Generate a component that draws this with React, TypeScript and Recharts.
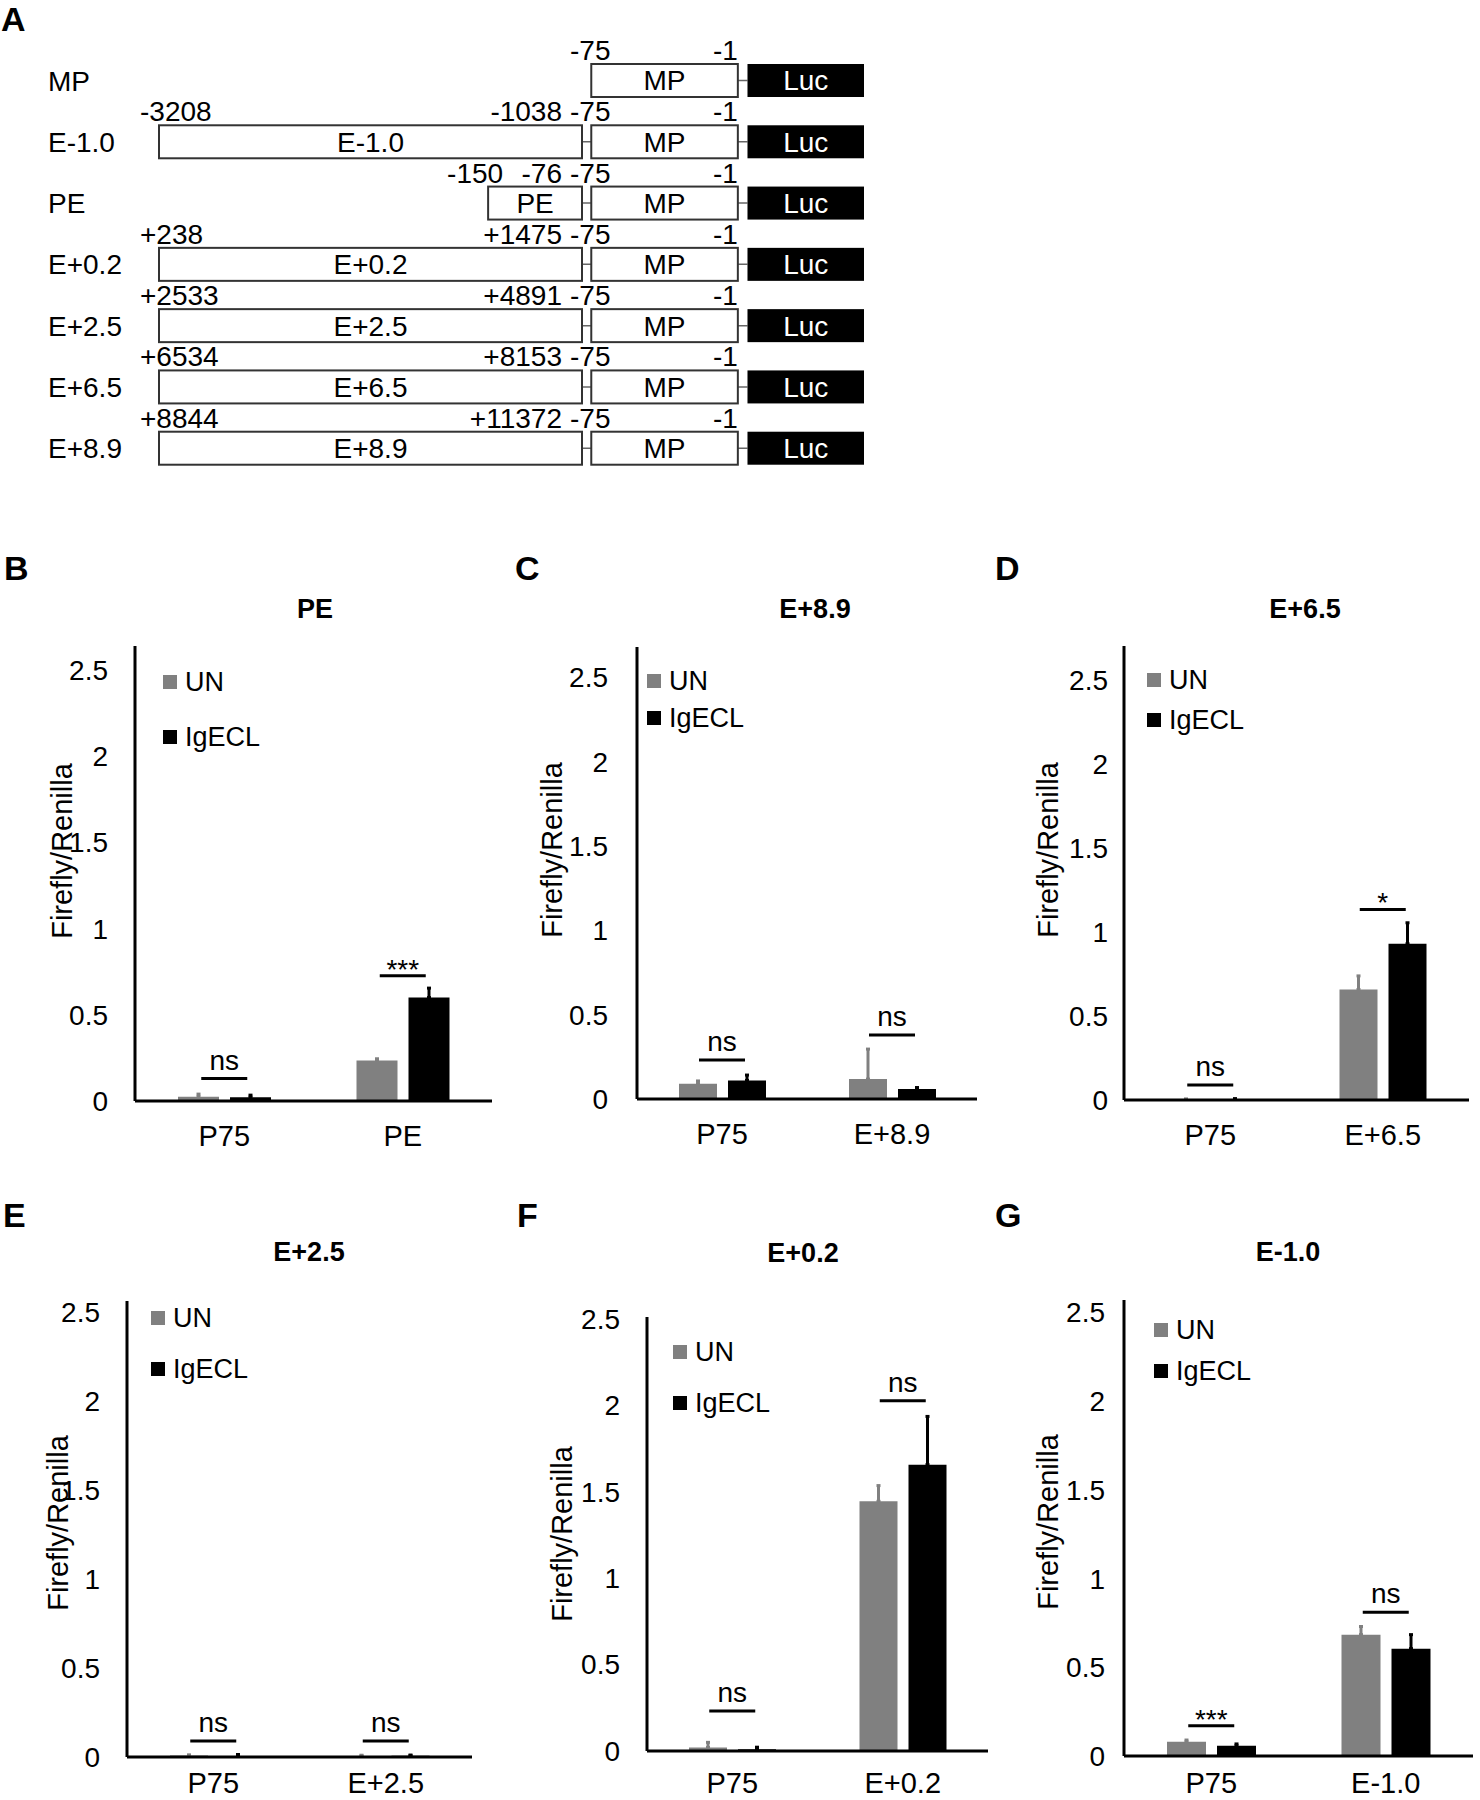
import React from "react";
import { BarChart, Bar, XAxis, YAxis, ErrorBar, Legend, ReferenceDot } from "recharts";

const FONT = '"Liberation Sans", Arial, Helvetica, sans-serif';
const GREY = "#808080";
const BLACK = "#000000";

// --- Panel A: reporter constructs (schematic units along the row) ---
const CONSTRUCTS = ["MP", "E-1.0", "PE", "E+0.2", "E+2.5", "E+6.5", "E+8.9"];
const ENHANCER_SPANS: (number[] | null)[] = [null, [0, 114], [88.7, 114], [0, 114], [0, 114], [0, 114], [0, 114]];
const ENHANCER_NAMES = ["", "E-1.0", "PE", "E+0.2", "E+2.5", "E+6.5", "E+8.9"];
const ENHANCER_START = ["", "-3208", "-150", "+238", "+2533", "+6534", "+8844"];
const ENHANCER_END = ["", "-1038", "-76", "+1475", "+4891", "+8153", "+11372"];
const MP_SPAN = [116.5, 156];
const MP_LABELS = ["-75", "-1"];
const LUC_SPAN = [158.6, 190];

// --- Luciferase assays ---
const Y_TICKS = [0, 0.5, 1, 1.5, 2, 2.5];
const SERIES = ["UN", "IgECL"];

// B - PE
const B_CATS = ["P75", "PE"];
const B_UN = [0.025, 0.235];
const B_UN_ERR = [0.015, 0.01];
const B_IG = [0.022, 0.6];
const B_IG_ERR = [0.012, 0.055];
const B_SIG_Y = [0.13, 0.727];
const B_SIG = ["ns", "***"];

// C - E+8.9
const C_CATS = ["P75", "E+8.9"];
const C_UN = [0.091, 0.118];
const C_UN_ERR = [0.016, 0.178];
const C_IG = [0.11, 0.059];
const C_IG_ERR = [0.032, 0.009];
const C_SIG_Y = [0.231, 0.379];
const C_SIG = ["ns", "ns"];

// D - E+6.5
const D_CATS = ["P75", "E+6.5"];
const D_UN = [0.004, 0.657];
const D_UN_ERR = [0.002, 0.081];
const D_IG = [0.005, 0.929];
const D_IG_ERR = [0.003, 0.125];
const D_SIG_Y = [0.089, 1.133];
const D_SIG = ["ns", "*"];

// E - E+2.5
const E_CATS = ["P75", "E+2.5"];
const E_UN = [0.008, 0.006];
const E_UN_ERR = [0.004, 0.004];
const E_IG = [0.006, 0.007];
const E_IG_ERR = [0.008, 0.004];
const E_SIG_Y = [0.09, 0.09];
const E_SIG = ["ns", "ns"];

// F - E+0.2
const F_CATS = ["P75", "E+0.2"];
const F_UN = [0.02, 1.444];
const F_UN_ERR = [0.03, 0.091];
const F_IG = [0.01, 1.656];
const F_IG_ERR = [0.012, 0.279];
const F_SIG_Y = [0.232, 2.025];
const F_SIG = ["ns", "ns"];

// G - E-1.0
const G_CATS = ["P75", "E-1.0"];
const G_UN = [0.08, 0.684];
const G_UN_ERR = [0.01, 0.046];
const G_IG = [0.058, 0.605];
const G_IG_ERR = [0.01, 0.079];
const G_SIG_Y = [0.17, 0.81];
const G_SIG = ["***", "ns"];

const txt = { fontFamily: FONT, fontSize: 28, fill: BLACK };

function RowLabel(props: any) {
  const { y, payload } = props;
  return (
    <text x={48} y={y} dy="0.355em" {...txt}>
      {payload.value}
    </text>
  );
}

function LinkShape(props: any) {
  const { x, y, width, height } = props;
  if (!isFinite(x) || !isFinite(width)) return <g />;
  return <line x1={x} x2={x + width} y1={y + height / 2} y2={y + height / 2} stroke="#666" strokeWidth={1.5} />;
}

function EnhancerShape(props: any) {
  const { x, y, width, height, payload } = props;
  if (!payload.enh || !isFinite(x)) return <g />;
  const short = width < 150;
  return (
    <g>
      <rect x={x} y={y} width={width} height={height} fill="#fff" stroke="#333" strokeWidth={2} />
      <text x={x + width / 2} y={y + height / 2} dy="0.355em" textAnchor="middle" {...txt}>
        {payload.enhName}
      </text>
      <text x={short ? x - 13 : x - 19} y={y - 4} textAnchor={short ? "middle" : "start"} {...txt}>
        {payload.enhStart}
      </text>
      <text x={x + width - 20} y={y - 4} textAnchor="end" {...txt}>
        {payload.enhEnd}
      </text>
    </g>
  );
}

function MpShape(props: any) {
  const { x, y, width, height } = props;
  return (
    <g>
      <rect x={x} y={y} width={width} height={height} fill="#fff" stroke="#333" strokeWidth={2} />
      <text x={x + width / 2} y={y + height / 2} dy="0.355em" textAnchor="middle" {...txt}>
        MP
      </text>
      <text x={x - 1} y={y - 4} textAnchor="middle" {...txt}>
        {MP_LABELS[0]}
      </text>
      <text x={x + width} y={y - 4} textAnchor="end" {...txt}>
        {MP_LABELS[1]}
      </text>
    </g>
  );
}

function LucShape(props: any) {
  const { x, y, width, height } = props;
  return (
    <g>
      <rect x={x} y={y} width={width} height={height} fill="#000" />
      <text x={x + width / 2} y={y + height / 2} dy="0.355em" textAnchor="middle" {...txt} fill="#fff">
        Luc
      </text>
    </g>
  );
}

function ConstructMap() {
  const rows = CONSTRUCTS.map((name, i) => {
    const enh = ENHANCER_SPANS[i];
    return {
      name,
      enh,
      mp: MP_SPAN,
      luc: LUC_SPAN,
      link: [enh ? enh[1] : MP_SPAN[0], LUC_SPAN[0]],
      enhName: ENHANCER_NAMES[i],
      enhStart: ENHANCER_START[i],
      enhEnd: ENHANCER_END[i],
    };
  });
  return (
    <div style={{ position: "absolute", left: 0, top: 0, width: 900, height: 500 }}>
      <BarChart
        layout="vertical"
        width={900}
        height={500}
        data={rows}
        margin={{ top: 50, bottom: 21, left: 0, right: 36 }}
        barGap={-33}
        barCategoryGap={0}
      >
        <XAxis type="number" domain={[0, 190]} hide />
        <YAxis type="category" dataKey="name" width={159} axisLine={false} tickLine={false} tick={<RowLabel />} interval={0} />
        <Bar dataKey="link" barSize={33} shape={LinkShape} isAnimationActive={false} />
        <Bar dataKey="enh" barSize={33} shape={EnhancerShape} isAnimationActive={false} />
        <Bar dataKey="mp" barSize={33} shape={MpShape} isAnimationActive={false} />
        <Bar dataKey="luc" barSize={33} shape={LucShape} isAnimationActive={false} />
      </BarChart>
    </div>
  );
}

function SigMark({ cx, cy, text }: any) {
  const stars = text.startsWith("*");
  return (
    <g>
      <line x1={cx - 23} x2={cx + 23} y1={cy} y2={cy} stroke={BLACK} strokeWidth={3} />
      <text x={cx} y={stars ? cy + 3 : cy - 9} textAnchor="middle" {...txt}>
        {text}
      </text>
    </g>
  );
}

function AssayPanel(props: any) {
  const { cats, un, unErr, ig, igErr, sigY, sig, yMax, plot, barSize, tickGap, xTickGap, legend } = props;
  const data = cats.map((cat: string, i: number) => ({
    cat,
    un: un[i],
    unErr: [0, unErr[i]],
    ig: ig[i],
    igErr: [0, igErr[i]],
  }));
  const left = plot.left - 100;
  const top = plot.top - 20;
  const width = plot.right - plot.left + 110;
  const height = plot.bottom - plot.top + 80;

  return (
    <div style={{ position: "absolute", left, top, width, height }}>
      <BarChart width={width} height={height} data={data} margin={{ top: 20, right: 10, left: 0, bottom: 0 }} barGap={11}>
        <XAxis
          dataKey="cat"
          height={60}
          axisLine={{ stroke: BLACK, strokeWidth: 3 }}
          tickLine={false}
          tickSize={0}
          tickMargin={xTickGap}
          interval={0}
          tick={{ fill: BLACK, fontSize: 29, fontFamily: FONT }}
        />
        <YAxis
          width={100}
          domain={[0, yMax]}
          ticks={Y_TICKS}
          interval={0}
          axisLine={{ stroke: BLACK, strokeWidth: 3 }}
          tickLine={false}
          tickSize={0}
          tickMargin={tickGap}
          tick={{ fill: BLACK, fontSize: 28, fontFamily: FONT }}
        />
        <Legend
          layout="vertical"
          align="center"
          verticalAlign="middle"
          wrapperStyle={{
            left: legend.x - left,
            top: legend.y - legend.gap / 2 - top,
            width: "auto",
          }}
          content={(lp: any) => {
            const items = [...(lp.payload || [])].sort(
              (a: any, b: any) => SERIES.indexOf(a.value) - SERIES.indexOf(b.value)
            );
            return (
              <div style={{ display: "flex", flexDirection: "column" }}>
                {items.map((p: any) => (
                  <div key={p.value} style={{ height: legend.gap, display: "flex", alignItems: "center" }}>
                    <span style={{ width: 14, height: 14, background: p.color, marginRight: 8, display: "inline-block" }} />
                    <span style={{ fontFamily: FONT, fontSize: 27, lineHeight: 1, color: BLACK }}>{p.value}</span>
                  </div>
                ))}
              </div>
            );
          }}
        />
        <Bar dataKey="un" name={SERIES[0]} fill={GREY} barSize={barSize} legendType="square" isAnimationActive={false}>
          <ErrorBar dataKey="unErr" direction="y" width={2} stroke={GREY} strokeWidth={3} />
        </Bar>
        <Bar dataKey="ig" name={SERIES[1]} fill={BLACK} barSize={barSize} legendType="square" isAnimationActive={false}>
          <ErrorBar dataKey="igErr" direction="y" width={2} stroke={BLACK} strokeWidth={3} />
        </Bar>
        {cats.map((c: string, i: number) => (
          <ReferenceDot
            key={c}
            x={c}
            y={sigY[i]}
            r={0}
            ifOverflow="visible"
            shape={(p: any) => <SigMark cx={p.cx} cy={p.cy} text={sig[i]} />}
          />
        ))}
      </BarChart>
    </div>
  );
}

const letter = { fontFamily: FONT, fontSize: 34, fontWeight: 700, fill: BLACK };
const title = { fontFamily: FONT, fontSize: 27, fontWeight: 700, fill: BLACK, textAnchor: "middle" as const };

function YLabel({ x, y }: { x: number; y: number }) {
  return (
    <text
      transform={`translate(${x},${y}) rotate(-90)`}
      textAnchor="middle"
      dominantBaseline="central"
      fontFamily={FONT}
      fontSize={29}
      fill={BLACK}
    >
      Firefly/Renilla
    </text>
  );
}

export default function App() {
  return (
    <div style={{ position: "relative", width: 1480, height: 1800, overflow: "hidden", background: "#fff" }}>
      <style>{"body{margin:0}"}</style>
      <ConstructMap />

      <AssayPanel
        cats={B_CATS} un={B_UN} unErr={B_UN_ERR} ig={B_IG} igErr={B_IG_ERR} sigY={B_SIG_Y} sig={B_SIG}
        yMax={2.64} plot={{ left: 135, top: 646, right: 492, bottom: 1101 }} barSize={41} tickGap={27} xTickGap={24}
        legend={{ x: 163, y: 682, gap: 55 }}
      />
      <AssayPanel
        cats={C_CATS} un={C_UN} unErr={C_UN_ERR} ig={C_IG} igErr={C_IG_ERR} sigY={C_SIG_Y} sig={C_SIG}
        yMax={2.68} plot={{ left: 637, top: 647, right: 977, bottom: 1099 }} barSize={38} tickGap={29} xTickGap={24}
        legend={{ x: 647, y: 681, gap: 37 }}
      />
      <AssayPanel
        cats={D_CATS} un={D_UN} unErr={D_UN_ERR} ig={D_IG} igErr={D_IG_ERR} sigY={D_SIG_Y} sig={D_SIG}
        yMax={2.7} plot={{ left: 1124, top: 646, right: 1469, bottom: 1100 }} barSize={38} tickGap={16} xTickGap={24}
        legend={{ x: 1147, y: 680, gap: 40 }}
      />
      <AssayPanel
        cats={E_CATS} un={E_UN} unErr={E_UN_ERR} ig={E_IG} igErr={E_IG_ERR} sigY={E_SIG_Y} sig={E_SIG}
        yMax={2.56} plot={{ left: 127, top: 1301, right: 472, bottom: 1757 }} barSize={38} tickGap={27} xTickGap={15}
        legend={{ x: 151, y: 1318, gap: 51 }}
      />
      <AssayPanel
        cats={F_CATS} un={F_UN} unErr={F_UN_ERR} ig={F_IG} igErr={F_IG_ERR} sigY={F_SIG_Y} sig={F_SIG}
        yMax={2.51} plot={{ left: 647, top: 1317, right: 988, bottom: 1751 }} barSize={38} tickGap={27} xTickGap={21}
        legend={{ x: 673, y: 1352, gap: 51 }}
      />
      <AssayPanel
        cats={G_CATS} un={G_UN} unErr={G_UN_ERR} ig={G_IG} igErr={G_IG_ERR} sigY={G_SIG_Y} sig={G_SIG}
        yMax={2.57} plot={{ left: 1124, top: 1300, right: 1473, bottom: 1756 }} barSize={39} tickGap={19} xTickGap={16}
        legend={{ x: 1154, y: 1330, gap: 41 }}
      />

      <svg width={1480} height={1800} style={{ position: "absolute", left: 0, top: 0, pointerEvents: "none" }}>
        <text x={1} y={31} {...letter}>A</text>
        <text x={4} y={580} {...letter}>B</text>
        <text x={515} y={580} {...letter}>C</text>
        <text x={995} y={580} {...letter}>D</text>
        <text x={3} y={1227} {...letter}>E</text>
        <text x={517} y={1227} {...letter}>F</text>
        <text x={995} y={1227} {...letter}>G</text>

        <text x={315} y={618} {...title}>PE</text>
        <text x={815} y={618} {...title}>E+8.9</text>
        <text x={1305} y={618} {...title}>E+6.5</text>
        <text x={309} y={1261} {...title}>E+2.5</text>
        <text x={803} y={1262} {...title}>E+0.2</text>
        <text x={1288} y={1261} {...title}>E-1.0</text>

        <YLabel x={62} y={851} />
        <YLabel x={552} y={850} />
        <YLabel x={1048} y={850} />
        <YLabel x={58} y={1523} />
        <YLabel x={562} y={1534} />
        <YLabel x={1048} y={1522} />
      </svg>
    </div>
  );
}
